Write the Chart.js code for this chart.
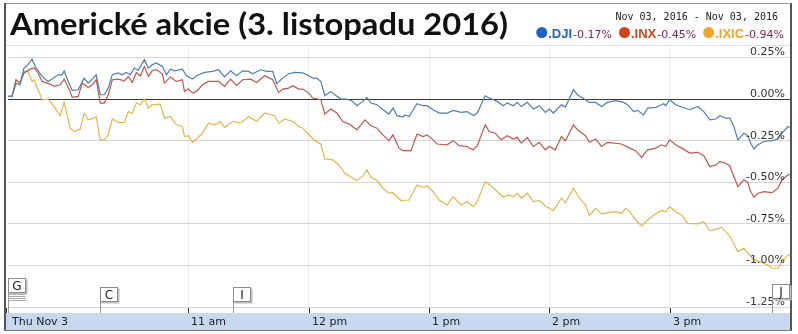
<!DOCTYPE html>
<html>
<head>
<meta charset="utf-8">
<script src="https://cdn.jsdelivr.net/npm/chart.js@4/dist/chart.umd.min.js"></script>
<style>
html,body{margin:0;padding:0;background:#fff}
#wrap{position:relative;width:798px;height:334px}
</style>
</head>
<body>
<div id="wrap"><canvas id="c" width="798" height="334"></canvas></div>
<script>
// minutes after 9:30 and % change from previous close
var djiTimes = [0,2,4,6,8,10,12,14,17,20,
  22,25,27,28,30,32,35,38,40,42,
  44,46,48,50,52,55,57,59,61,63,
  65,68,70,72,74,77,79,81,83,87,
  89,92,94,98,102,105,108,111,114,117,
  120,122,126,129,132,134,137,140,143,147,
  149,152,154,156,158,161,163,166,169,172,
  174,177,179,181,184,187,190,192,194,197,
  198,200,204,207,209,212,215,219,222,226,
  229,232,234,238,240,244,247,249,252,254,
  256,259,262,265,268,270,272,276,278,282,
  284,288,290,293,296,299,303,307,309,312,
  314,317,319,323,325,327,328,330,333,336,
  340,344,347,350,353,355,358,360,362,364,
  367,369,370,372,374,377,381,384,386,389,
  390];
var djiValues = [0.016,0.016,0.096,0.086,0.187,0.207,0.24,0.187,0.136,0.106,
  0.12,0.146,0.146,0.17,0.106,0.052,0.056,0.126,0.096,0.12,
  0.146,0.026,0.026,0.066,0.146,0.157,0.146,0.16,0.146,0.187,
  0.173,0.237,0.187,0.207,0.217,0.196,0.146,0.18,0.17,0.18,
  0.14,0.12,0.14,0.16,0.166,0.176,0.133,0.17,0.14,0.17,
  0.166,0.152,0.176,0.166,0.166,0.092,0.126,0.152,0.16,0.157,
  0.146,0.126,0.126,0.106,0.02,0.046,0.026,0,0,-0.014,
  -0.04,-0.014,0.01,-0.024,-0.034,-0.064,-0.09,-0.054,-0.1,-0.108,
  -0.095,-0.105,-0.028,-0.04,-0.04,-0.064,-0.084,-0.084,-0.068,-0.08,
  -0.075,-0.099,-0.084,0.02,0.006,-0.014,-0.04,-0.024,-0.04,-0.02,
  -0.045,-0.02,-0.06,-0.04,-0.08,-0.06,-0.084,-0.034,-0.048,0.056,
  0.026,-0.004,-0.02,-0.02,-0.045,-0.02,-0.01,-0.02,-0.034,-0.075,
  -0.068,-0.095,-0.054,-0.05,-0.04,-0.028,-0.04,-0.004,-0.034,-0.048,
  -0.064,-0.045,-0.075,-0.125,-0.12,-0.1,-0.115,-0.115,-0.165,-0.245,
  -0.205,-0.22,-0.255,-0.3,-0.275,-0.255,-0.25,-0.24,-0.205,-0.165,
  -0.17];

var inxTimes = [0,2,4,6,8,11,13,15,17,21,
  23,26,28,31,32,35,37,40,42,44,
  46,48,50,52,55,58,60,62,64,66,
  68,70,72,74,77,78,81,84,87,88,
  90,92,94,97,100,105,108,111,114,117,
  121,124,128,132,135,137,140,142,145,147,
  150,152,156,158,161,164,167,170,174,178,
  181,184,187,190,192,195,197,201,204,207,
  209,212,214,219,222,225,229,232,234,238,
  240,243,246,249,252,254,256,259,262,265,
  268,270,273,276,278,282,284,288,290,293,
  296,299,306,310,313,316,319,323,326,328,
  330,333,336,340,344,347,350,353,355,358,
  360,362,364,367,369,370,372,374,377,381,
  384,386,389,390];
var inxValues = [0.016,0.016,0.116,0.096,0.157,0.18,0.187,0.157,0.106,0.09,
  0.076,0.086,0.12,0.046,0.01,0.016,0.096,0.07,0.086,0.116,
  -0.024,-0.024,0.026,0.116,0.12,0.11,0.136,0.1,0.16,0.14,
  0.196,0.136,0.172,0.177,0.15,0.096,0.133,0.106,0.116,0.046,
  0.06,0.036,0.046,0.086,0.106,0.106,0.076,0.12,0.08,0.116,
  0.12,0.1,0.14,0.116,0.04,0.06,0.066,0.08,0.06,0.06,
  0.036,0.006,-0.004,-0.09,-0.06,-0.084,-0.135,-0.149,-0.185,-0.125,
  -0.16,-0.175,-0.215,-0.25,-0.215,-0.295,-0.31,-0.31,-0.21,-0.225,
  -0.215,-0.245,-0.27,-0.275,-0.25,-0.28,-0.285,-0.305,-0.28,-0.155,
  -0.195,-0.205,-0.245,-0.22,-0.24,-0.23,-0.265,-0.23,-0.285,-0.26,
  -0.305,-0.285,-0.305,-0.225,-0.25,-0.155,-0.185,-0.22,-0.26,-0.24,
  -0.285,-0.26,-0.27,-0.295,-0.31,-0.35,-0.305,-0.295,-0.275,-0.285,
  -0.245,-0.275,-0.295,-0.325,-0.32,-0.34,-0.406,-0.396,-0.376,-0.386,
  -0.402,-0.466,-0.526,-0.486,-0.502,-0.546,-0.59,-0.566,-0.557,-0.563,
  -0.536,-0.486,-0.456,-0.455];

var ixicTimes = [0,2,4,5,6,8,10,12,13,15,
  17,20,23,26,28,31,33,36,38,40,
  43,44,46,48,50,52,55,58,60,62,
  64,66,68,70,72,76,78,81,84,87,
  88,90,92,94,97,100,103,106,108,112,
  116,120,124,128,133,135,138,142,145,147,
  151,153,156,158,162,165,168,172,174,177,
  179,181,184,187,190,192,196,200,204,207,
  209,212,215,219,222,226,229,232,234,238,
  241,244,247,250,252,254,256,259,262,265,
  268,272,276,278,282,285,288,290,293,296,
  299,303,306,308,310,313,316,319,323,326,
  328,330,333,336,339,344,347,350,353,356,
  360,364,367,369,372,375,379,381,384,386,
  389,390];
var ixicValues = [0.016,0.016,0.116,0.106,0.096,0.166,0.166,0.106,0.116,0.056,
  -0.004,0,-0.045,-0.1,-0.02,-0.175,-0.195,-0.18,-0.085,-0.125,
  -0.115,-0.105,-0.245,-0.245,-0.215,-0.12,-0.141,-0.141,-0.075,-0.085,
  -0.024,-0.034,0,-0.054,-0.034,-0.03,-0.115,-0.105,-0.155,-0.165,
  -0.225,-0.22,-0.26,-0.24,-0.205,-0.145,-0.155,-0.135,-0.17,-0.135,
  -0.145,-0.105,-0.135,-0.084,-0.1,-0.145,-0.12,-0.135,-0.165,-0.175,
  -0.225,-0.25,-0.27,-0.36,-0.366,-0.396,-0.446,-0.476,-0.49,-0.462,
  -0.426,-0.47,-0.49,-0.536,-0.566,-0.563,-0.61,-0.607,-0.516,-0.53,
  -0.522,-0.557,-0.607,-0.637,-0.587,-0.637,-0.617,-0.647,-0.617,-0.496,
  -0.522,-0.557,-0.587,-0.576,-0.587,-0.566,-0.596,-0.566,-0.617,-0.61,
  -0.643,-0.671,-0.596,-0.623,-0.536,-0.596,-0.637,-0.7,-0.657,-0.69,
  -0.683,-0.677,-0.687,-0.657,-0.677,-0.727,-0.763,-0.727,-0.69,-0.67,
  -0.677,-0.647,-0.677,-0.697,-0.747,-0.75,-0.737,-0.79,-0.783,-0.77,
  -0.826,-0.917,-0.897,-0.927,-0.967,-0.977,-0.997,-1.017,-1.017,-0.977,
  -0.937,-0.935];

var seriesNames = ['.DJI','.INX','.IXIC'];
var closePct = ['-0.17%','-0.45%','-0.94%'];
var yTicks = [-1.25,-1.0,-0.75,-0.5,-0.25,0,0.25];
var yTickLabels = ['-1.25%','-1.00%','-0.75%','-0.50%','-0.25%','0.00%','0.25%'];
var hourTicks = [90,150,210,270,330];
var hourLabels = ['11 am','12 pm','1 pm','2 pm','3 pm'];
var flags = [{t:0,label:'G'},{t:46,label:'C'},{t:112,label:'I'},{t:381,label:'J'}];

var lineColors = ['#4a80b8','#c4574b','#e9b44c'];
var legendColors = ['#1e64c8','#d6421c','#f5a524'];

function pts(times, vals){
  return vals.map(function(v,i){ return {x:times[i], y:v}; });
}

var decor = {
  id:'decor',
  beforeDraw:function(chart){
    var c = chart.ctx;
    c.save();
    c.fillStyle = '#fff';
    c.fillRect(0,0,chart.width,chart.height);
    c.restore();
  },
  afterDatasetsDraw:function(chart){
    var c = chart.ctx, xs = chart.scales.x, ys = chart.scales.y;
    c.save();

    // y labels on the right, above their line
    c.font = '11px "DejaVu Sans"';
    c.fillStyle = '#333';
    c.textAlign = 'right';
    c.textBaseline = 'alphabetic';
    yTicks.forEach(function(v,i){
      c.fillText(yTickLabels[i], 785, Math.round(ys.getPixelForValue(v)) - 2);
    });

    // frame
    c.strokeStyle = '#e2e2e2';
    c.lineWidth = 1;
    c.beginPath(); c.moveTo(5, 45.5); c.lineTo(790, 45.5); c.stroke();
    c.strokeStyle = '#9a9a9a';
    c.beginPath(); c.moveTo(4.5, 3.5); c.lineTo(789, 3.5); c.stroke();
    c.strokeStyle = '#555';
    c.lineWidth = 2;
    c.beginPath(); c.moveTo(5, 3); c.lineTo(5, 331); c.stroke();
    c.beginPath(); c.moveTo(791, 3); c.lineTo(791, 331); c.stroke();
    c.lineWidth = 1;
    c.strokeStyle = '#777';
    c.beginPath(); c.moveTo(4, 330.5); c.lineTo(792, 330.5); c.stroke();

    // time band
    c.fillStyle = '#c6d9f1';
    c.fillRect(6, 313, 784, 17);
    c.strokeStyle = '#333';
    c.beginPath();
    [0].concat(hourTicks).forEach(function(t){
      var x = Math.round(xs.getPixelForValue(t)) + 0.5;
      if (t === 0) x = 6.5;
      c.moveTo(x, 308); c.lineTo(x, 313);
    });
    c.stroke();
    c.font = '11px "DejaVu Sans"';
    c.fillStyle = '#222';
    c.textAlign = 'left';
    c.fillText('Thu Nov 3', 12, 325);
    hourTicks.forEach(function(t,i){
      c.fillText(hourLabels[i], Math.round(xs.getPixelForValue(t)) + 3, 325);
    });

    // news flags
    var flagTop = {G:278, C:287, I:287, J:284};
    flags.forEach(function(f){
      var x = Math.round(xs.getPixelForValue(f.t)) + 0.5;
      var top = flagTop[f.label] + 0.5;
      var w = 17, h = 14;
      c.strokeStyle = '#999';
      c.beginPath(); c.moveTo(x, top + h); c.lineTo(x, 313); c.stroke();
      if (f.label === 'G') {
        c.strokeStyle = '#aaa';
        for (var k = 1; k <= 4; k++) {
          c.beginPath(); c.moveTo(x, top + h + 2*k); c.lineTo(x + w, top + h + 2*k); c.stroke();
        }
      }
      c.fillStyle = '#bdbdbd';
      c.fillRect(x + 1, top + 1, w + 1, h + 1);
      c.fillStyle = '#fff';
      c.fillRect(x, top, w, h);
      c.strokeStyle = '#8c8c8c';
      c.strokeRect(x, top, w, h);
      c.fillStyle = '#222';
      c.textAlign = 'center';
      c.font = '12px "DejaVu Sans"';
      c.fillText(f.label, x + w/2, top + h - 3);
    });

    // title
    c.textAlign = 'left';
    c.fillStyle = '#111';
    c.font = 'bold 31px Lato';
    var title = 'Americké akcie (3. listopadu 2016)';
    var tw = c.measureText(title).width;
    c.save();
    c.translate(10, 35);
    c.scale(498 / tw, 1);
    c.fillText(title, 0, 0);
    c.restore();

    // date range
    c.font = '10px "DejaVu Sans Mono"';
    c.fillStyle = '#222';
    c.textAlign = 'right';
    c.fillText('Nov 03, 2016 - Nov 03, 2016', 778, 20);

    // legend
    var tickerFont = 'bold 13px "Liberation Sans Narrow", "Liberation Sans", Arial';
    var pctFont = '11px "DejaVu Sans"';
    var widths = seriesNames.map(function(n,i){
      c.font = tickerFont; var w1 = c.measureText(n).width;
      c.font = pctFont; var w2 = c.measureText(closePct[i]).width;
      return {dot:12, t:w1, p:w2};
    });
    var gap = 7, total = 0;
    widths.forEach(function(w,i){ total += w.dot + w.t + 1 + w.p + (i < 2 ? gap : 0); });
    var x = 784 - total;
    c.textAlign = 'left';
    seriesNames.forEach(function(n,i){
      c.fillStyle = legendColors[i];
      c.beginPath(); c.arc(x + 5.5, 32.5, 5.5, 0, Math.PI*2); c.fill();
      x += widths[i].dot;
      c.font = tickerFont;
      c.fillText(n, x, 37.5);
      x += widths[i].t + 1;
      c.font = pctFont;
      c.fillStyle = '#80265a';
      c.fillText(closePct[i], x, 37.5);
      x += widths[i].p + gap;
    });

    c.restore();
  }
};

new Chart(document.getElementById('c'), {
  type:'line',
  data:{
    datasets:[
      {label:seriesNames[0], data:pts(djiTimes, djiValues), borderColor:lineColors[0], borderWidth:1.2, pointRadius:0, tension:0, fill:false},
      {label:seriesNames[1], data:pts(inxTimes, inxValues), borderColor:lineColors[1], borderWidth:1.2, pointRadius:0, tension:0, fill:false},
      {label:seriesNames[2], data:pts(ixicTimes, ixicValues), borderColor:lineColors[2], borderWidth:1.2, pointRadius:0, tension:0, fill:false}
    ]
  },
  options:{
    responsive:false,
    animation:false,
    devicePixelRatio:1,
    layout:{padding:{left:8, right:8, top:45, bottom:27}},
    plugins:{legend:{display:false}, tooltip:{enabled:false}},
    scales:{
      x:{
        type:'linear', min:0, max:390,
        afterFit:function(s){ s.height = 0; },
        afterBuildTicks:function(s){ s.ticks = hourTicks.map(function(v){ return {value:v}; }); },
        ticks:{display:false},
        grid:{color:'#ebebeb', drawTicks:false},
        border:{display:false}
      },
      y:{
        min:-1.25, max:0.325,
        afterFit:function(s){ s.width = 0; },
        afterBuildTicks:function(s){ s.ticks = yTicks.map(function(v){ return {value:v}; }); },
        ticks:{display:false},
        grid:{color:function(ctx){ return ctx.tick && ctx.tick.value === 0 ? '#4b3131' : '#d6d6d6'; }, drawTicks:false},
        border:{display:false}
      }
    }
  },
  plugins:[decor]
});
</script>
</body>
</html>
